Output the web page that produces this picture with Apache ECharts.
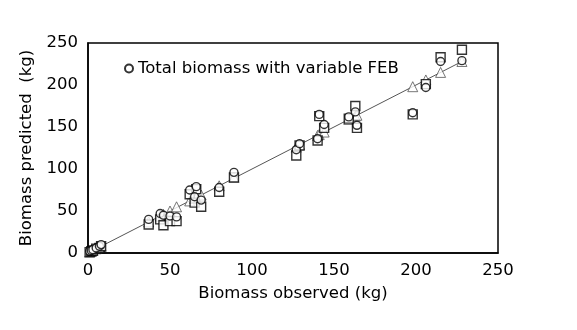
<!DOCTYPE html>
<html>
<head>
<meta charset="utf-8">
<script src="https://cdn.jsdelivr.net/npm/echarts@6/dist/echarts.min.js"></script>
<style>
  html, body { margin: 0; padding: 0; background: #fff; }
  #chart { width: 577px; height: 330px; }
</style>
</head>
<body>
<div id="chart"></div>
<script>
// observed biomass (kg)
var observed = [1, 2, 3, 5, 7, 8, 37, 44, 46, 50, 54, 62, 65, 66, 69, 80, 89, 127, 129, 140, 141, 144, 159, 163, 164, 198, 206, 215, 228];
// predicted - total biomass with variable FEB (circles)
var predCircle = [2, 3, 4, 6, 8, 10, 40, 47, 45, 44, 43, 75, 67, 79, 63, 78, 96, 123, 130, 136, 165, 153, 162, 168, 152, 167, 197, 228, 229];
// predicted (squares)
var predSquare = [1, 2, 3, 5, 6, 8, 34, 40, 33, 38, 38, 70, 60, 76, 55, 73, 90, 116, 128, 134, 163, 149, 160, 175, 149, 165, 201, 233, 242];
// predicted (triangles)
var predTriangle = [1, 2, 3, 5, 7, 8, 37, 44, 46, 50, 55, 62, 65, 66, 69, 80, 90, 126, 129, 140, 141, 144, 159, 163, 164, 198, 206, 215, 228];
var oneToOne = [[0, 0], [230, 230]];
var axisTicks = [0, 50, 100, 150, 200, 250];

function pairs(ys) {
	return observed.map(function (x, i) { return [x, ys[i]]; });
}

var myChart = echarts.init(document.getElementById('chart'));

var fontFam = 'DejaVu Sans';
var fs = 16.5;

var option = {
	animation: false,
	backgroundColor: '#fff',
	grid: {
		left: 88,
		right: 79,
		top: 43,
		bottom: 77
	},
	legend: {
		data: ['Total biomass with variable FEB'],
		left: 119,
		top: 55,
		itemWidth: 8,
		itemHeight: 8,
		itemGap: 4,
		textStyle: { fontFamily: fontFam, fontSize: fs, color: '#000' }
	},
	xAxis: {
		type: 'value',
		min: axisTicks[0],
		max: axisTicks[axisTicks.length - 1],
		interval: 50,
		name: 'Biomass observed (kg)',
		nameLocation: 'middle',
		nameGap: 32,
		nameTextStyle: { fontFamily: fontFam, fontSize: fs, color: '#000' },
		axisLine: { show: true, onZero: false, lineStyle: { color: '#000', width: 1.5 } },
		axisTick: { show: false },
		axisLabel: { fontFamily: fontFam, fontSize: fs, color: '#000', margin: 9 },
		splitLine: { show: false }
	},
	yAxis: {
		type: 'value',
		min: axisTicks[0],
		max: axisTicks[axisTicks.length - 1],
		interval: 50,
		name: 'Biomass predicted  (kg)',
		nameLocation: 'middle',
		nameGap: 46,
		nameTextStyle: { fontFamily: fontFam, fontSize: fs, color: '#000' },
		axisLine: { show: true, onZero: false, lineStyle: { color: '#000', width: 1.5 } },
		axisTick: { show: false },
		axisLabel: { fontFamily: fontFam, fontSize: fs, color: '#000', margin: 10 },
		splitLine: { show: false }
	},
	series: [
		{
			name: 'frame',
			type: 'line',
			data: [],
			markArea: {
				silent: true,
				itemStyle: { color: 'transparent', borderColor: '#000', borderWidth: 1.5 },
				data: [[{ xAxis: 0, yAxis: 0 }, { xAxis: 250, yAxis: 250 }]]
			}
		},
		{
			name: '1:1',
			type: 'line',
			data: oneToOne,
			showSymbol: false,
			lineStyle: { color: '#555', width: 1 },
			z: 1
		},
		{
			name: 'Triangles',
			type: 'scatter',
			symbol: 'triangle',
			symbolSize: 10,
			data: pairs(predTriangle),
			itemStyle: { color: '#fff', borderColor: '#555', borderWidth: 1 },
			z: 2
		},
		{
			name: 'Squares',
			type: 'scatter',
			symbol: 'rect',
			symbolSize: 9,
			data: pairs(predSquare),
			itemStyle: { color: '#fff', borderColor: '#000', borderWidth: 1.4 },
			z: 3
		},
		{
			name: 'Total biomass with variable FEB',
			type: 'scatter',
			symbol: 'circle',
			symbolSize: 8,
			data: pairs(predCircle),
			itemStyle: { color: '#fff', borderColor: '#000', borderWidth: 1.4 },
			z: 4
		}
	]
};
myChart.setOption(option);
</script>
</body>
</html>
